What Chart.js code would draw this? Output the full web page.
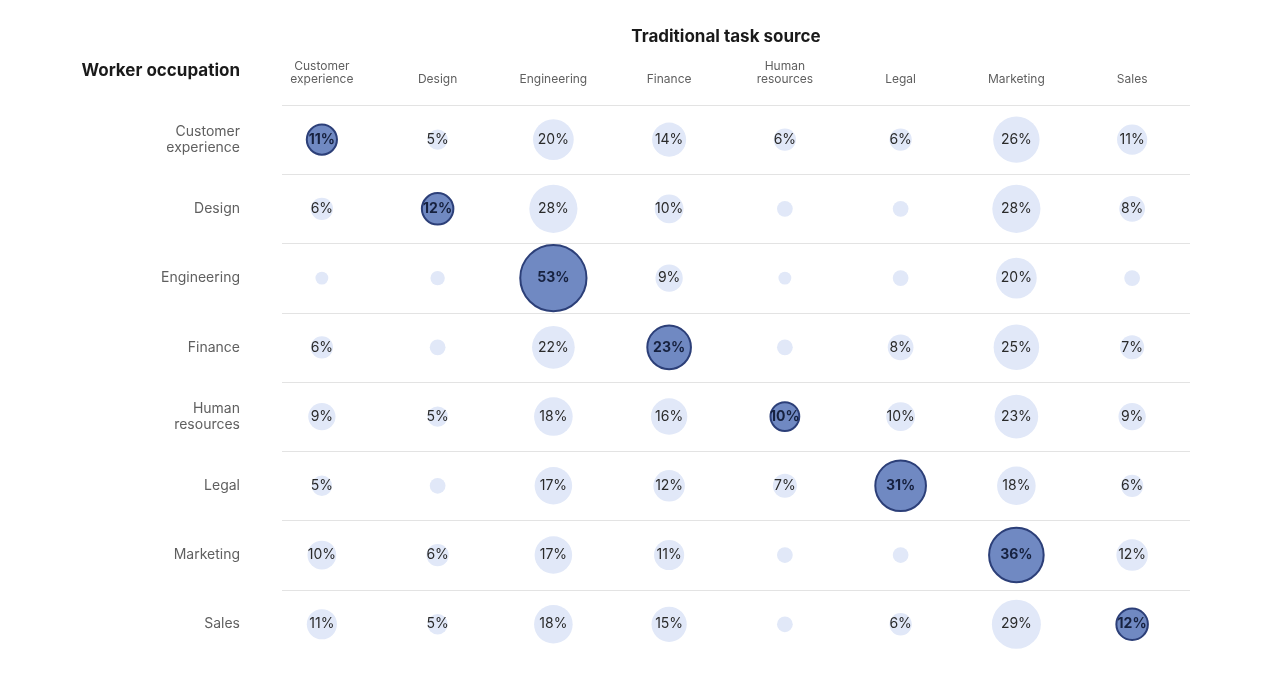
<!DOCTYPE html>
<html><head><meta charset="utf-8">
<script src="https://cdn.jsdelivr.net/npm/chart.js@4"></script>
<style>body{margin:0;background:#fff}canvas{display:block}</style>
</head><body>
<canvas id="c" width="1278" height="694"></canvas>
<script>
// task source columns, worker occupation rows
const columns = [['Customer', 'experience'], ['Design'], ['Engineering'], ['Finance'], ['Human', 'resources'], ['Legal'], ['Marketing'], ['Sales']];
const rows = [['Customer', 'experience'], ['Design'], ['Engineering'], ['Finance'], ['Human', 'resources'], ['Legal'], ['Marketing'], ['Sales']];
const values = [
    [11, 5, 20, 14, 6, 6, 26, 11],
    [6, 12, 28, 10, 3, 3, 28, 8],
    [2, 2.5, 53, 9, 2, 3, 20, 3],
    [6, 3, 22, 23, 3, 8, 25, 7],
    [9, 5, 18, 16, 10, 10, 23, 9],
    [5, 3, 17, 12, 7, 31, 18, 6],
    [10, 6, 17, 11, 3, 3, 36, 12],
    [11, 5, 18, 15, 3, 6, 29, 12]
];
const FONT = 'Inter, "Noto Sans", sans-serif';

const points = [];
values.forEach((row, ri) => row.forEach((v, ci) => {
    points.push({ x: ci, y: ri, r: 4.55 * Math.sqrt(v), v: v, diag: ri === ci });
}));

// grid lines, headers and percentage labels
const decor = {
    id: 'decor',
    beforeDatasetsDraw(chart) {
        const ctx = chart.ctx, ys = chart.scales.y, xs = chart.scales.x;
        ctx.save();
        ctx.strokeStyle = '#e3e3e3';
        ctx.lineWidth = 1;
        for (let i = 0; i < rows.length; i++) {
            const y = Math.round(ys.getPixelForValue(i - 0.5)) + 0.5;
            ctx.beginPath(); ctx.moveTo(282, y); ctx.lineTo(1190, y); ctx.stroke();
        }
        ctx.fillStyle = '#1a1a1a';
        ctx.font = 'bold 17px ' + FONT;
        ctx.textAlign = 'center'; ctx.textBaseline = 'middle';
        ctx.fillText('Traditional task source', 726, 37);
        ctx.textAlign = 'right';
        ctx.fillText('Worker occupation', 240, 71);
        ctx.fillStyle = '#5f5f5f';
        ctx.font = '12px ' + FONT;
        ctx.textAlign = 'center';
        columns.forEach((lines, i) => {
            const x = xs.getPixelForValue(i);
            lines.forEach((t, k) => ctx.fillText(t, x, 79 - (lines.length - 1 - k) * 13));
        });
        ctx.font = '14px ' + FONT;
        ctx.textAlign = 'right';
        rows.forEach((lines, i) => {
            const y = ys.getPixelForValue(i);
            lines.forEach((t, k) => ctx.fillText(t, 240, y + (k - (lines.length - 1) / 2) * 16));
        });
        ctx.restore();
    },
    afterDatasetsDraw(chart) {
        const ctx = chart.ctx;
        ctx.save();
        ctx.textAlign = 'center'; ctx.textBaseline = 'middle';
        chart.getDatasetMeta(0).data.forEach((el, i) => {
            const p = points[i];
            if (p.v < 5) return;
            ctx.font = (p.diag ? 'bold ' : '') + '14px ' + FONT;
            ctx.fillStyle = p.diag ? '#16213f' : '#2a2a2a';
            ctx.fillText(p.v + '%', el.x, el.y);
        });
        ctx.restore();
    }
};

new Chart(document.getElementById('c'), {
    type: 'bubble',
    data: {
        datasets: [{
            data: points,
            backgroundColor: points.map(p => p.diag ? '#7089c2' : '#e1e8f8'),
            borderColor: points.map(p => p.diag ? '#2c3f78' : '#e1e8f8'),
            borderWidth: points.map(p => p.diag ? 2 : 0)
        }]
    },
    options: {
        responsive: false,
        animation: false,
        layout: { padding: { left: 264, top: 105, right: 88, bottom: 8 } },
        scales: {
            x: { display: false, min: -0.5, max: 7.5 },
            y: { display: false, min: -0.5, max: 7.5, reverse: true }
        },
        plugins: { legend: { display: false }, tooltip: { enabled: false } }
    },
    plugins: [decor]
});
</script>
</body></html>
